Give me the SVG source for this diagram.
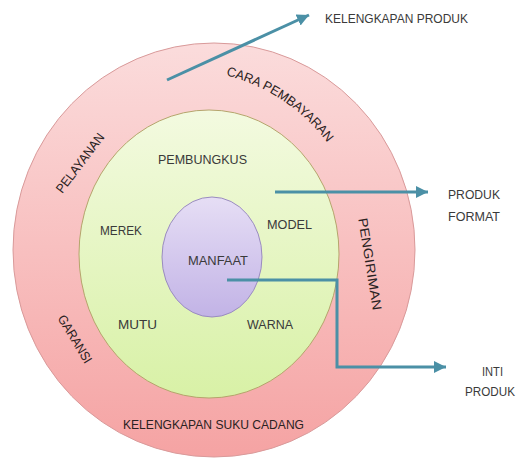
<svg xmlns="http://www.w3.org/2000/svg" width="521" height="467" viewBox="0 0 521 467">
  <defs>
    <linearGradient id="gOuter" x1="0" y1="0" x2="0" y2="1">
      <stop offset="0" stop-color="#fbdcdc"/>
      <stop offset="1" stop-color="#f5a3a3"/>
    </linearGradient>
    <linearGradient id="gMid" x1="0" y1="0" x2="0" y2="1">
      <stop offset="0" stop-color="#f3fae0"/>
      <stop offset="1" stop-color="#d8f1a6"/>
    </linearGradient>
    <linearGradient id="gInner" x1="0" y1="0" x2="0" y2="1">
      <stop offset="0" stop-color="#e6def5"/>
      <stop offset="1" stop-color="#c2b3e6"/>
    </linearGradient>
    <marker id="arrow" markerUnits="userSpaceOnUse" markerWidth="14" markerHeight="14" refX="12" refY="6" orient="auto">
      <path d="M0,0 L12,6 L0,12 Z" fill="#4b90a6"/>
    </marker>
    <path id="arcCara" d="M 226 75.4 A 182 182 0 0 1 331 147.6"/>
  </defs>
  <style>
    .t { font-family: "Liberation Sans", Arial, sans-serif; font-size: 13px; fill: #3a3a3a; }
    .o { fill: #2a2222; }
    .conn { fill: none; stroke: #4b90a6; stroke-width: 3; }
  </style>
  <rect width="521" height="467" fill="#ffffff"/>

  <g id="outer-ring">
    <ellipse cx="214" cy="250" rx="201" ry="207" fill="url(#gOuter)" stroke="#d99a9a" stroke-width="1"/>
    <text class="t o" font-size="12.5"><textPath href="#arcCara" textLength="124" lengthAdjust="spacingAndGlyphs">CARA PEMBAYARAN</textPath></text>
    <text class="t o" transform="translate(80,163) rotate(-53)" x="0" y="4.5" text-anchor="middle" textLength="71" lengthAdjust="spacingAndGlyphs">PELAYANAN</text>
    <text class="t o" transform="translate(75,339) rotate(59)" x="0" y="4.5" text-anchor="middle" textLength="54" lengthAdjust="spacingAndGlyphs">GARANSI</text>
    <text class="t o" transform="translate(370,264) rotate(81)" x="0" y="4.5" text-anchor="middle" textLength="93" lengthAdjust="spacingAndGlyphs">PENGIRIMAN</text>
    <text class="t o" x="123" y="429" textLength="181" lengthAdjust="spacingAndGlyphs">KELENGKAPAN SUKU CADANG</text>
  </g>

  <g id="middle-ring">
    <ellipse cx="209" cy="254" rx="130" ry="144" fill="url(#gMid)" stroke="#b5a56c" stroke-width="1"/>
    <text class="t" x="158" y="164" textLength="89" lengthAdjust="spacingAndGlyphs">PEMBUNGKUS</text>
    <text class="t" x="100" y="235" textLength="42" lengthAdjust="spacingAndGlyphs">MEREK</text>
    <text class="t" x="267" y="229" textLength="45" lengthAdjust="spacingAndGlyphs">MODEL</text>
    <text class="t" x="118" y="329" textLength="39" lengthAdjust="spacingAndGlyphs">MUTU</text>
    <text class="t" x="247" y="329" textLength="46" lengthAdjust="spacingAndGlyphs">WARNA</text>
  </g>

  <g id="core">
    <ellipse cx="212" cy="257" rx="50" ry="60" fill="url(#gInner)" stroke="#9a8cbf" stroke-width="1"/>
    <text class="t" x="188" y="265" textLength="60" lengthAdjust="spacingAndGlyphs">MANFAAT</text>
  </g>

  <g id="connectors">
    <path class="conn" d="M167,80 L309,15" marker-end="url(#arrow)"/>
    <path class="conn" d="M275,192 L428,192" marker-end="url(#arrow)"/>
    <path class="conn" d="M227,280 L337,280 L337,367 L446,367" marker-end="url(#arrow)"/>
  </g>

  <g id="label-kelengkapan-produk">
    <text class="t" x="325" y="23" textLength="143" lengthAdjust="spacingAndGlyphs">KELENGKAPAN PRODUK</text>
  </g>
  <g id="label-produk-format">
    <text class="t" x="448" y="199" textLength="52" lengthAdjust="spacingAndGlyphs">PRODUK</text>
    <text class="t" x="448" y="221" textLength="52" lengthAdjust="spacingAndGlyphs">FORMAT</text>
  </g>
  <g id="label-inti-produk">
    <text class="t" x="482" y="376" textLength="21" lengthAdjust="spacingAndGlyphs">INTI</text>
    <text class="t" x="465" y="396" textLength="50" lengthAdjust="spacingAndGlyphs">PRODUK</text>
  </g>
</svg>
